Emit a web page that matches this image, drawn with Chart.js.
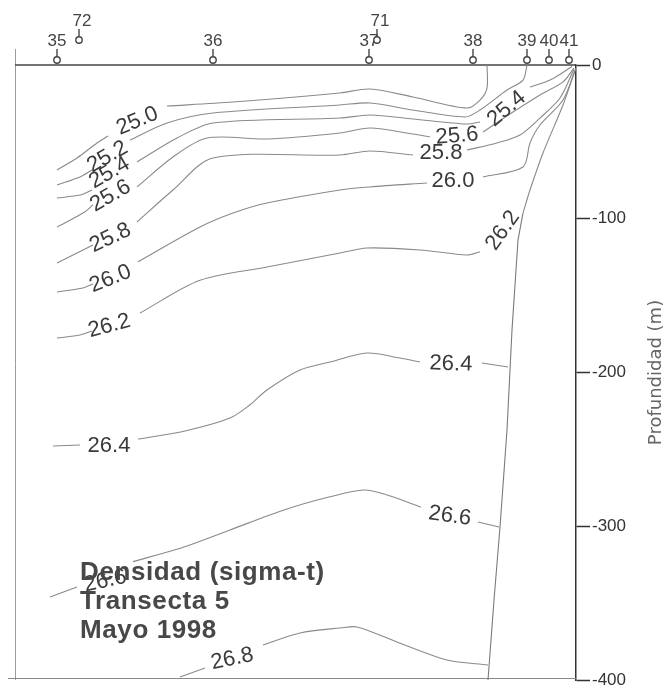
<!DOCTYPE html>
<html>
<head>
<meta charset="utf-8">
<title>Densidad (sigma-t) - Transecta 5</title>
<script src="https://cdn.jsdelivr.net/npm/chart.js@4.4.1/dist/chart.umd.min.js"></script>
<style>
  html, body { margin: 0; padding: 0; background: #fff; overflow: hidden; }
  #wrap { width: 668px; height: 687px; overflow: hidden; }
</style>
</head>
<body>
<div id="wrap"><canvas id="chart" width="668" height="700"></canvas></div>
<script>
"use strict";

/* ============================================================
   DATA (distance along transect, depth in m)
============================================================ */
const stationNames = ['35', '72', '36', '37', '71', '38', '39', '40', '41'];
const stationDist = [42, 64, 198, 354, 362, 458, 512, 534, 554];
const offsetStations = ['72', '71'];

const depthTicks = [0, -100, -200, -300, -400];

// isopycnals, null = break where the label sits
const s250 = [[42, -68.3], [62, -60.5], [82, -50.7], [93, -46.2], null,
  [152, -26.7], [218, -24.1], [325, -18.2], [355, -15.6], [398, -20.8], [452, -28], [465, -22.8], [472, -15], [472, 0]];
const s252 = [[42, -78], [65, -72.8], [77, -68.3], null,
  [115, -48.8], [152, -37.7], [198, -31.2], [325, -26], [355, -24.7], [398, -29.3], [450, -33.8], [465, -29.3], [492, -16.3], [508, -9.8], [512, 0]];
const s254 = [[42, -86.5], [65, -84.6], [77, -81.3], null,
  [122, -63.1], [162, -47.5], [198, -37.7], [325, -34.5], [355, -32.5], [398, -35.1], [452, -38.4], [465, -37.1], null,
  [515, -14.3], [535, -9.8], [557, -1]];
const s256 = [[42, -105.4], [68, -96.3], [78, -91], null,
  [122, -79.3], [158, -59.8], [192, -47.5], [252, -48.1], [325, -44.2], [355, -41], [398, -44.9], [415, -46.8], null,
  [468, -43.6], [498, -30.6], [525, -19.5], [548, -11], [559, -2]];
const s258 = [[42, -128.8], [68, -120.3], [78, -117], null,
  [122, -102.1], [158, -81.3], [198, -60.5], [325, -58.5], [355, -55.9], [398, -58.5], null,
  [452, -55.3], [482, -50.7], [505, -45.5], [525, -34.5], [545, -21.5], [559, -2.6]];
const s260 = [[42, -147.6], [68, -145], [78, -142.4], null,
  [123, -128], [185, -105.4], [218, -96.3], [252, -89.8], [325, -81.3], [355, -79.3], [412, -76.7], null,
  [468, -72.8], [508, -66.3], [515, -50.7], [525, -39], [548, -22.8], [560, -3.3]];
const s262 = [[42, -177.6], [65, -175.6], [77, -173], null,
  [125, -161.3], [185, -140], [252, -131.4], [325, -122.3], [352, -119], [405, -120.3], [452, -123.6], [465, -121.5], null,
  [508, -96.3], [515, -81.3], [528, -57.2], [548, -26], [561, -2]];
const s264 = [[38, -247.8], [65, -247.2], null,
  [123, -243.3], [170, -238], [215, -229.6], [235, -221], [252, -211.4], [285, -198.4], [315, -193.2], [352, -187.3], [385, -190.6], [405, -193.2], null,
  [467, -193.8], [493, -196.4]];
const s266 = [[35, -346], [62, -339.5], null,
  [118, -323], [169, -313.5], [215, -302.4], [269, -289.4], [314, -281], [349, -276.4], [372, -279.7], [406, -287.5], null,
  [463, -297.2], [484, -300.5]];
const s268 = [[165, -398], [190, -392.2], null,
  [248, -377.2], [285, -369.4], [325, -366.2], [342, -365.5], [382, -375.3], [432, -387], [473, -390.2]];

// shelf / data limit
const bottomEdge = [[508, -96.3], [503, -113.8], [497, -172.4], [492, -237.4], [485, -300.5], [479, -348], [473, -400]];

// contour labels: text, distance, depth, angle (deg)
const contourLabels = [
  ['25.0', 122, -35.8, -23], ['25.2', 92, -59.2, -30], ['25.4', 94, -69.6, -30],
  ['25.6', 95, -84.6, -30], ['25.8', 95, -111.9, -25], ['26.0', 95, -138.5, -22],
  ['26.2', 94, -169.1, -15], ['26.4', 94, -247.2, 0], ['26.6', 90, -335, -12],
  ['26.8', 217, -385.7, -12],
  ['25.4', 491, -28, -40], ['25.6', 442, -45.5, -5], ['25.8', 426, -56.6, 0],
  ['26.0', 438, -74.8, 0], ['26.2', 487, -107.3, -55], ['26.4', 436, -193.8, 2],
  ['26.6', 435, -292.7, 8]
];

const noteLines = ['Densidad (sigma-t)', 'Transecta 5', 'Mayo 1998'];
const axisTitle = 'Profundidad (m)';

/* ============================================================
   HELPERS
============================================================ */
const FONT = '"Liberation Sans", Arial, sans-serif';

function toPoints(arr) {
  return arr.map(p => p ? { x: p[0], y: p[1] } : { x: NaN, y: null });
}

function lineSet(arr) {
  return {
    data: toPoints(arr),
    borderColor: '#8a8a8a',
    borderWidth: 1.1,
    pointRadius: 0,
    tension: 0.3,
    spanGaps: false,
    fill: false
  };
}

/* ============================================================
   DECORATION PLUGIN (frame, stations, labels)
============================================================ */
const decor = {
  id: 'decor',
  beforeDatasetsDraw(chart) {
    const { ctx, chartArea: a } = chart;
    ctx.save();
    ctx.strokeStyle = '#9a9a9a';
    ctx.lineWidth = 1;
    ctx.beginPath();
    ctx.moveTo(a.left + 0.5, a.top - 16);
    ctx.lineTo(a.left + 0.5, a.bottom);
    ctx.stroke();

    ctx.strokeStyle = '#888';
    ctx.beginPath();
    ctx.moveTo(a.left - 7, a.bottom - 1.5);
    ctx.lineTo(a.right, a.bottom - 1.5);
    ctx.stroke();

    ctx.strokeStyle = '#444';
    ctx.lineWidth = 1.5;
    ctx.beginPath();
    ctx.moveTo(a.left, a.top);
    ctx.lineTo(a.right, a.top);
    ctx.stroke();
    ctx.restore();
  },
  afterDatasetsDraw(chart) {
    const { ctx, chartArea: a, scales } = chart;
    const xs = scales.x, ys = scales.y;
    ctx.save();

    // stations on the surface
    stationNames.forEach((name, i) => {
      const px = xs.getPixelForValue(stationDist[i]);
      const dy = offsetStations.includes(name) ? -20 : 0;
      const cy = a.top - 5 + dy;
      ctx.strokeStyle = '#444';
      ctx.lineWidth = 1.4;
      ctx.beginPath();
      ctx.moveTo(px, a.top - 16 + dy);
      ctx.lineTo(px, cy - 3.2);
      ctx.stroke();
      ctx.beginPath();
      ctx.arc(px, cy, 3.2, 0, Math.PI * 2);
      ctx.fillStyle = '#fff';
      ctx.fill();
      ctx.stroke();
      ctx.fillStyle = '#444';
      ctx.font = '17px ' + FONT;
      ctx.textAlign = 'center';
      ctx.textBaseline = 'alphabetic';
      ctx.fillText(name, px + (dy ? 3 : 0), a.top - 19 + dy);
    });

    // contour labels
    ctx.fillStyle = '#3a3a3a';
    ctx.font = '22px ' + FONT;
    ctx.textAlign = 'center';
    ctx.textBaseline = 'middle';
    contourLabels.forEach(([txt, x, d, ang]) => {
      ctx.save();
      ctx.translate(xs.getPixelForValue(x), ys.getPixelForValue(d));
      ctx.rotate(ang * Math.PI / 180);
      ctx.fillText(txt, 0, 1);
      ctx.restore();
    });

    // note block
    ctx.fillStyle = '#484848';
    ctx.font = 'bold 26px ' + FONT;
    ctx.textAlign = 'left';
    ctx.textBaseline = 'alphabetic';
    if ('letterSpacing' in ctx) ctx.letterSpacing = '0.6px';
    noteLines.forEach((line, i) => {
      ctx.fillText(line, a.left + 65, a.bottom - 100 + i * 29);
    });
    if ('letterSpacing' in ctx) ctx.letterSpacing = '0px';

    // axis title, reads bottom to top
    ctx.save();
    ctx.translate(a.right + 80, (a.top + a.bottom) / 2);
    ctx.rotate(-Math.PI / 2);
    ctx.fillStyle = '#666';
    ctx.font = '18px "DejaVu Sans", sans-serif';
    ctx.textAlign = 'center';
    ctx.textBaseline = 'middle';
    ctx.fillText(axisTitle, 0, 0);
    ctx.restore();

    ctx.restore();
  }
};

/* ============================================================
   CHART
============================================================ */
const contours = [s250, s252, s254, s256, s258, s260, s262, s264, s266, s268];
const datasets = contours.map(lineSet);
datasets.push(Object.assign(lineSet(bottomEdge), { tension: 0, borderColor: '#7a7a7a' }));

new Chart(document.getElementById('chart'), {
  type: 'line',
  data: { datasets },
  options: {
    responsive: false,
    animation: false,
    events: [],
    layout: { padding: { top: 65, left: 15, right: 0, bottom: 20 } },
    plugins: { legend: { display: false }, tooltip: { enabled: false } },
    scales: {
      x: { type: 'linear', display: false, min: 0, max: 561 },
      y: {
        type: 'linear',
        position: 'right',
        min: -400,
        max: 0,
        afterBuildTicks: s => { s.ticks = depthTicks.map(v => ({ value: v })); },
        afterFit: s => { s.width = 92; },
        border: { display: true, color: '#333', width: 1.5 },
        grid: { drawOnChartArea: false, drawTicks: true, tickLength: 14, tickColor: '#333', tickWidth: 1.5 },
        ticks: { color: '#333', padding: 2, font: { size: 17, family: FONT } }
      }
    }
  },
  plugins: [decor]
});
</script>
</body>
</html>
